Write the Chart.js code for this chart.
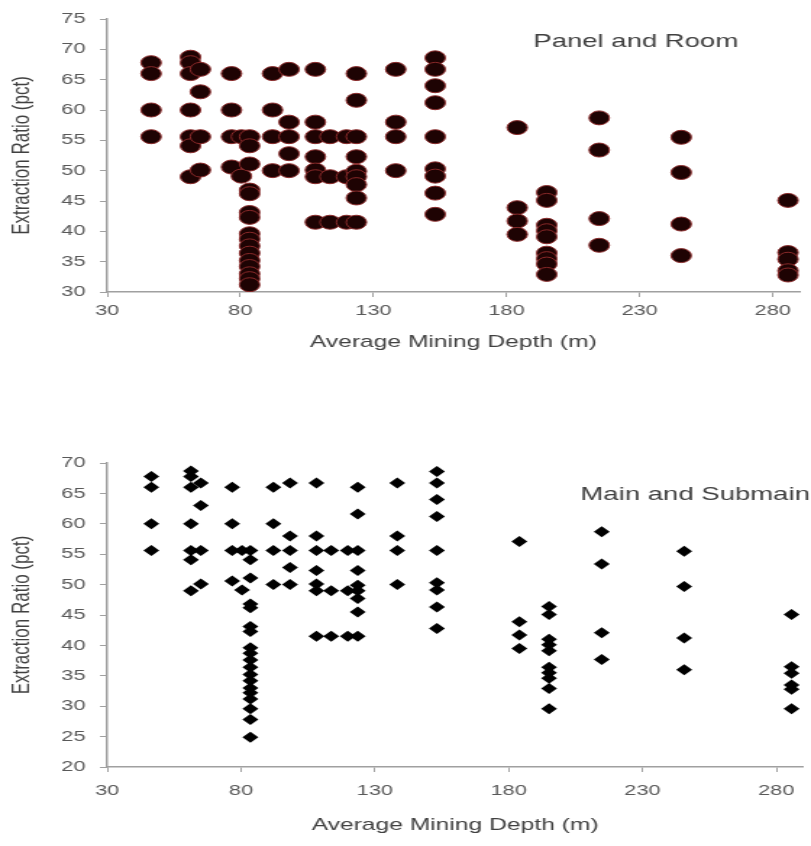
<!DOCTYPE html>
<html>
<head>
<meta charset="utf-8">
<script src="https://cdn.jsdelivr.net/npm/chart.js@4.4.1/dist/chart.umd.min.js"></script>
<style>
  html, body { margin: 0; padding: 0; background: #fff; }
  body { width: 811px; height: 846px; position: relative; overflow: hidden; }
</style>
</head>
<body>
<!-- the source picture is stretched sideways, so the canvases are drawn narrow and widened by css -->
<canvas id="panelChart" width="560" height="370" style="position:absolute;left:0;top:0;width:811px;height:370px;"></canvas>
<canvas id="mainChart" width="560" height="426" style="position:absolute;left:0;top:420px;width:811px;height:426px;"></canvas>
<script>
// average mining depth (m) of each group of cases
const depthGroups = [46.5, 61.3, 65, 76.7, 80.4, 83.5, 92.1, 98.3, 108.2, 113.7, 119.9, 123.6,
                     138.4, 153.2, 184, 195.1, 214.8, 245.6, 285.7];

// extraction ratio (pct) of the cases at each depth
const ratioGroups = [
    [67.8, 66.0, 60.0, 55.6],
    [68.7, 67.8, 66.0, 60.0, 55.6, 54.1, 49.0],
    [66.7, 63.0, 55.6, 50.1],
    [66.0, 60.0, 55.6, 50.6],
    [55.6, 49.1],
    [55.6, 54.1, 51.1, 46.8, 46.2, 43.1, 42.3, 39.6, 38.7, 37.6, 36.4, 35.2, 34.2, 33.0, 32.2, 31.2, 29.6, 27.8, 24.9],
    [66.0, 60.0, 55.6, 50.0],
    [66.7, 58.0, 55.6, 52.8, 50.0],
    [66.7, 58.0, 55.6, 52.3, 50.1, 49.0, 41.5],
    [55.6, 49.0, 41.5],
    [55.6, 49.0, 41.5],
    [66.0, 61.6, 55.6, 52.3, 49.9, 49.0, 47.7, 45.5, 41.5],
    [66.7, 58.0, 55.6, 50.0],
    [68.6, 66.7, 64.0, 61.2, 55.6, 50.3, 49.1, 46.3, 42.8],
    [57.1, 43.9, 41.7, 39.5],
    [46.4, 45.1, 41.0, 40.1, 39.1, 36.4, 35.5, 34.6, 32.9, 29.6],
    [58.7, 53.4, 42.1, 37.7],
    [55.5, 49.7, 41.2, 36.0],
    [45.1, 36.5, 35.4, 33.5, 32.8, 29.6]
];

const xTicks = [30, 80, 130, 180, 230, 280];
const panelYTicks = [30, 35, 40, 45, 50, 55, 60, 65, 70, 75];
const mainYTicks = [20, 25, 30, 35, 40, 45, 50, 55, 60, 65, 70];

const xTitle = "Average Mining Depth (m)";
const yTitle = "Extraction Ratio (pct)";

const FONT = '"Liberation Sans", Arial, sans-serif';
const AXIS_GREY = "#a0a0a0";

function buildPoints(minY) {
    const pts = [];
    depthGroups.forEach((d, i) => {
        ratioGroups[i].forEach(r => {
            if (r >= minY) pts.push({ x: d, y: r });
        });
    });
    return pts;
}

// draws the "Panel and Room" style caption inside the plot
const captionPlugin = {
    id: "caption",
    afterDraw(chart, args, opts) {
        const ctx = chart.ctx;
        ctx.save();
        ctx.font = "19px " + FONT;
        ctx.fillStyle = "#404040";
        ctx.textAlign = "center";
        ctx.textBaseline = "middle";
        ctx.fillText(opts.text, opts.x, opts.y);
        ctx.restore();
    }
};

function makeChart(id, cfg) {
    const ctx = document.getElementById(id).getContext("2d");
    return new Chart(ctx, {
        type: "scatter",
        data: {
            datasets: [{
                data: buildPoints(cfg.yTicks[0]),
                pointStyle: cfg.pointStyle,
                pointRadius: cfg.radius,
                pointHoverRadius: cfg.radius,
                backgroundColor: cfg.fill,
                borderColor: cfg.edge,
                borderWidth: cfg.edgeWidth,
            }],
        },
        options: {
            responsive: false,
            animation: false,
            devicePixelRatio: 1,
            layout: { padding: { top: cfg.padTop, right: 0, left: 0, bottom: 0 } },
            plugins: {
                legend: { display: false },
                tooltip: { enabled: false },
                caption: cfg.caption,
            },
            scales: {
                x: {
                    type: "linear",
                    min: 30,
                    max: 290,
                    afterBuildTicks: (scale) => {
                        scale.ticks = xTicks.map(v => ({ value: v }));
                    },
                    afterFit: (scale) => { scale.height = cfg.xAxisHeight; },
                    border: { color: AXIS_GREY, width: 1.5 },
                    grid: { drawOnChartArea: false, drawTicks: true, tickLength: 5, color: AXIS_GREY },
                    ticks: { color: "#595959", font: { family: FONT, size: 15 }, padding: cfg.xTickPad, maxRotation: 0 },
                    title: {
                        display: true,
                        text: xTitle,
                        color: "#404040",
                        font: { family: FONT, size: 17 },
                        padding: { top: 0, bottom: cfg.xTitlePad },
                    },
                },
                y: {
                    type: "linear",
                    min: cfg.yTicks[0],
                    max: cfg.yTicks[cfg.yTicks.length - 1],
                    afterBuildTicks: (scale) => {
                        scale.ticks = cfg.yTicks.map(v => ({ value: v }));
                    },
                    afterFit: (scale) => { scale.width = 74; },
                    border: { color: AXIS_GREY, width: 1.5 },
                    grid: { drawOnChartArea: false, drawTicks: true, tickLength: 5, color: AXIS_GREY },
                    ticks: { color: "#595959", font: { family: FONT, size: 15 }, padding: 10 },
                    title: {
                        display: true,
                        text: yTitle,
                        color: "#404040",
                        font: { family: FONT, size: 17 },
                        padding: { top: 5, bottom: 0 },
                    },
                },
            },
        },
        plugins: [captionPlugin],
    });
}

makeChart("panelChart", {
    yTicks: panelYTicks,
    pointStyle: "circle",
    radius: 7,
    fill: "#1e0303",
    edge: "#8a2a2a",
    edgeWidth: 1,
    padTop: 18,
    xAxisHeight: 78,
    xTickPad: 5,
    xTitlePad: 17,
    caption: { text: "Panel and Room", x: 439, y: 42 },
});

makeChart("mainChart", {
    yTicks: mainYTicks,
    pointStyle: "rectRot",
    radius: 5.5,
    fill: "#000000",
    edge: "#000000",
    edgeWidth: 0,
    padTop: 43,
    xAxisHeight: 79,
    xTickPad: 10,
    xTitlePad: 10,
    caption: { text: "Main and Submain", x: 480, y: 75 },
});
</script>
</body>
</html>
